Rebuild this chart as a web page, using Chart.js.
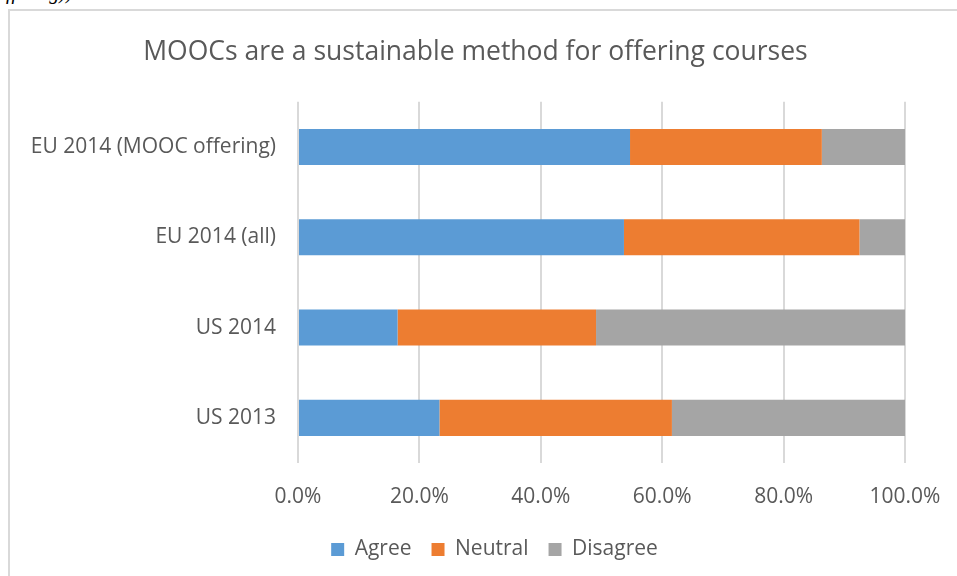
<!DOCTYPE html>
<html lang="en">
<head>
    <meta charset="UTF-8">
    <title>MOOCs are a sustainable method for offering courses</title>
    <script src="https://cdn.jsdelivr.net/npm/chart.js"></script>
    <style>
        html, body { margin: 0; padding: 0; background: #fff; overflow: hidden; }
        body { width: 957px; height: 576px; position: relative; }
        .stray {
            position: absolute; left: -4px; top: -19px;
            font: italic 20px "Liberation Serif", "DejaVu Serif", serif; color: #000;
        }
        .frame {
            position: absolute; left: 8px; top: 9px; width: 960px; height: 580px;
            border-left: 2px solid #d9d9d9; border-top: 2px solid #d9d9d9;
        }
        .wrap { position: absolute; left: 10px; top: 11px; width: 947px; height: 565px; }
    </style>
</head>
<body>
    <div class="stray">offering))</div>
    <div class="frame"></div>
    <div class="wrap"><canvas id="moocChart"></canvas></div>
    <script>
        // chart values (share of respondents)
        const categories = ['EU 2014 (MOOC offering)', 'EU 2014 (all)', 'US 2014', 'US 2013'];
        const agree = [0.547, 0.537, 0.164, 0.233];
        const neutral = [0.316, 0.388, 0.327, 0.383];
        const disagree = [0.137, 0.075, 0.509, 0.384];
        const seriesNames = ['Agree', 'Neutral', 'Disagree'];
        const seriesColors = ['#5b9bd5', '#ed7d31', '#a5a5a5'];
        const xTicks = [0, 0.2, 0.4, 0.6, 0.8, 1.0];

        const textColor = '#595959';
        const font = 'Open Sans';

        // title and legend sit a bit right of the plot-area centre in the original
        const boxShift = {
            id: 'boxShift',
            afterLayout(chart) {
                chart.titleBlock.left += 18;
                chart.titleBlock.right += 18;
                chart.legend.left += 37;
                chart.legend.right += 37;
            }
        };

        const ctx = document.getElementById('moocChart').getContext('2d');
        new Chart(ctx, {
            type: 'bar',
            data: {
                labels: categories,
                datasets: [agree, neutral, disagree].map((vals, i) => ({
                    label: seriesNames[i],
                    data: vals,
                    backgroundColor: seriesColors[i],
                    borderWidth: 0,
                    categoryPercentage: 0.8,
                    barPercentage: 0.5
                }))
            },
            options: {
                indexAxis: 'y',
                responsive: true,
                maintainAspectRatio: false,
                animation: false,
                layout: { padding: { left: 0, right: 52, top: 0, bottom: 6 } },
                scales: {
                    x: {
                        stacked: true,
                        min: 0,
                        max: 1,
                        afterBuildTicks(scale) {
                            scale.ticks = xTicks.map(v => ({ value: v }));
                        },
                        afterFit(scale) {
                            scale.height = 56;
                            scale.paddingLeft = 0;
                            scale.paddingRight = 0;
                        },
                        grid: { color: '#d9d9d9', lineWidth: 2, drawTicks: false },
                        border: { display: false },
                        ticks: {
                            padding: 21,
                            color: textColor,
                            font: { family: font, size: 21 },
                            callback: v => (v * 100).toFixed(1) + '%'
                        }
                    },
                    y: {
                        stacked: true,
                        afterFit(scale) { scale.width = 288; },
                        grid: { display: false, drawTicks: false },
                        border: { display: false },
                        ticks: {
                            padding: 22,
                            color: textColor,
                            font: { family: font, size: 21 }
                        }
                    }
                },
                plugins: {
                    title: {
                        display: true,
                        text: 'MOOCs are a sustainable method for offering courses',
                        color: textColor,
                        font: { family: font, size: 26.5, weight: 'normal' },
                        padding: { top: 26, bottom: 33 }
                    },
                    legend: {
                        position: 'bottom',
                        labels: {
                            color: textColor,
                            font: { family: font, size: 21 },
                            boxWidth: 13,
                            boxHeight: 13,
                            padding: 20
                        }
                    },
                    tooltip: { enabled: false }
                }
            },
            plugins: [boxShift]
        });
    </script>
</body>
</html>
